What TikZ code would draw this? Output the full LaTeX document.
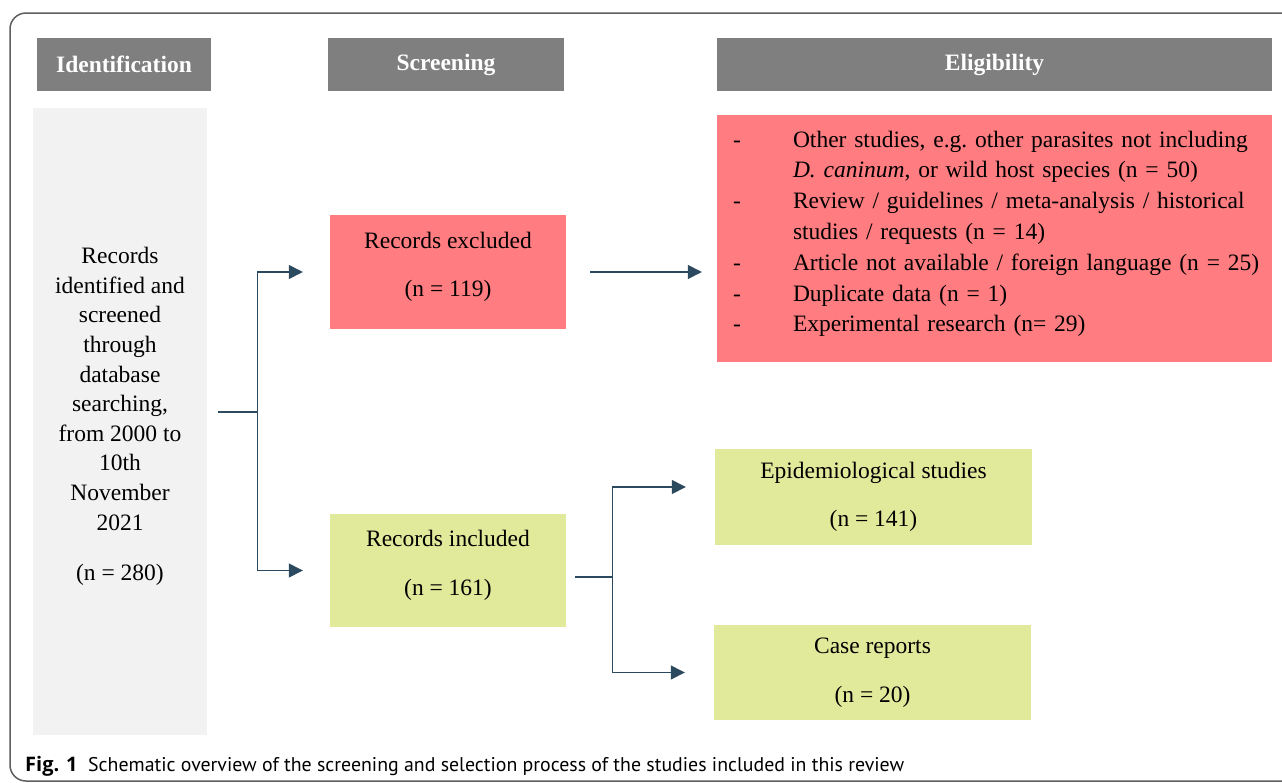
\documentclass[tikz,border=0pt]{standalone}
\usepackage{fontspec}
\setmainfont{Liberation Serif}
\newfontfamily\capfont{PT Sans}
\newfontfamily\figfont{Open Sans}
\usetikzlibrary{positioning,arrows.meta,calc}
\definecolor{hdrgray}{HTML}{7F7F7F}
\definecolor{idgray}{HTML}{F2F2F2}
\definecolor{exred}{HTML}{FF7C80}
\definecolor{ingreen}{HTML}{E1E99B}
\definecolor{arrblue}{HTML}{2B4A60}
\definecolor{framegray}{HTML}{5F5F5F}
\tikzset{
  phase/.style = {fill=hdrgray, text=white, inner sep=0pt, minimum height=53pt,
                  font=\fontsize{23.5}{29}\selectfont\bfseries},
  stage/.style = {inner sep=0pt, align=center,
                  font=\fontsize{23.5}{29.6}\selectfont\frenchspacing},
  excl/.style  = {stage, fill=exred},
  incl/.style  = {stage, fill=ingreen},
  link/.style  = {draw=arrblue, line width=1.4pt},
  arr/.style   = {link, -{Triangle[length=14pt,width=14pt]}}
}
\newcommand{\dsh}{\hspace*{7.5pt}\makebox[60pt][l]{-}}
\newcommand{\ind}{\hspace*{67.5pt}}

\begin{document}
\begin{tikzpicture}[x=1pt,y=-1pt]
\clip (0,0) rectangle (1282,782);
\fill[white] (0,0) rectangle (1282,782);
\draw[framegray, line width=1.5pt, rounded corners=16pt] (10,13) rectangle (1320,781);

% phase headers
\node[phase, minimum width=174pt] (ident)  at (124,64.5)   {Identification};
\node[phase, minimum width=236pt] (screen) at (446,64.5)   {Screening};
\node[phase, minimum width=555pt] (elig)   at (994.5,64.5) {Eligibility};

% boxes
\node[stage, fill=idgray, text depth=15pt, minimum width=174pt, minimum height=627pt] (records) at (120,421.5)
  {Records\\identified and\\screened\\through\\database\\searching,\\from 2000 to\\10th\\November\\2021\\[21pt](n = 280)};
\node[excl, text depth=15pt, minimum width=236pt, minimum height=114pt] (excluded) at (448,272)
  {Records excluded\\[19pt](n = 119)};
\node[incl, text depth=15pt, minimum width=236pt, minimum height=113pt] (included) at (448,570.5)
  {Records included\\[19pt](n = 161)};
\node[excl, minimum width=555pt, minimum height=247pt, align=left, text width=538pt,
      text depth=199pt, font=\fontsize{23.5}{30.8}\selectfont\frenchspacing] (reasons) at (994.5,238.5)
  {\dsh Other studies, e.g. other parasites not including\\
   \ind\textit{D. caninum}, or wild host species (n = 50)\\
   \dsh Review / guidelines / meta-analysis / historical\\
   \ind studies / requests (n = 14)\\
   \dsh Article not available / foreign language (n = 25)\\
   \dsh Duplicate data (n = 1)\\
   \dsh Experimental research (n= 29)};
\node[incl, minimum width=317pt, minimum height=96pt] (epi) at (873.5,497)
  {Epidemiological studies\\[19pt](n = 141)};
\node[incl, minimum width=317pt, minimum height=95pt] (case) at (872.5,672.5)
  {Case reports\\[19pt](n = 20)};

% connectors
\draw[link] ([xshift=11pt,yshift=9.5pt]records.east) -- ++(39,0) coordinate (fork1);
\draw[link] (fork1 |- excluded.west) -- (fork1 |- included.west);
\draw[arr] (fork1 |- excluded.west) -- ([xshift=-27pt]excluded.west);
\draw[arr] (fork1 |- included.west) -- ([xshift=-27pt]included.west);
\draw[arr] ([xshift=24pt]excluded.east) -- ([xshift=-15pt]reasons.west |- excluded.east);
\draw[link] ([xshift=9pt,yshift=-6.5pt]included.east) -- ++(37,0) coordinate (fork2);
\draw[link] ([yshift=10pt]fork2 |- epi.west) -- (fork2 |- case.west);
\draw[arr] ([yshift=10pt]fork2 |- epi.west) -- ([xshift=-29pt,yshift=10pt]epi.west);
\draw[arr] (fork2 |- case.west) -- ([xshift=-29pt]case.west);

% caption
\node[anchor=base west, inner sep=0pt, font=\capfont\fontsize{19.85}{24}\selectfont] (caption) at (25,771)
  {\makebox[63pt][l]{\figfont\fontsize{20}{24}\selectfont\bfseries Fig. 1}Schematic overview of the screening and selection process of the studies included in this review};
\end{tikzpicture}
\end{document}
